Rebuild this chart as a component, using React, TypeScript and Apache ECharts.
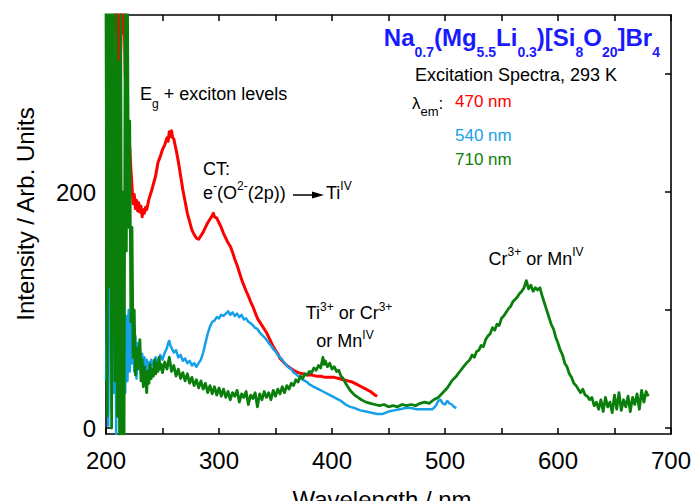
import React, { useEffect, useRef } from 'react';
import * as echarts from 'echarts';

const FONT = '"Liberation Sans", Arial, Helvetica, sans-serif';

const RED = '#ff0000';
const BLUE = '#16a0e8';
const GREEN = '#0b7f0b';
const TITLE_BLUE = '#1a1aff';

// x axis: wavelength (nm)
const xMin = 200;
const xMax = 700;
const xInterval = 100;
// y axis: intensity
const yMin = -5;
const yMax = 350;
const yTickValues = [0, 100, 200, 300];
const yLabelValues = [0, 200];

// Excitation spectrum, lambda_em = 470 nm
const red470: [number, number][] = [
  [208, 360], [209, 310], [210, 362], [211, 300], [212, 365], [213, 320], [214, 360], [215, 335], [216, 355],
  [217, 300], [218, 280], [219, 265], [220, 245], [221, 238], [222, 220], [223, 205], [224, 190], [225, 198],
  [226, 186], [227, 193], [228, 184], [229, 191], [230, 183], [231, 188], [232, 179], [233, 185], [234, 182],
  [235, 187], [236, 185], [238, 194], [240, 200], [242, 207], [244, 214], [246, 225], [248, 230], [250, 236],
  [252, 240], [254, 246], [255, 243], [256, 251], [257, 247], [258, 252], [259, 246], [260, 245], [262, 236],
  [264, 226], [266, 214], [268, 202], [270, 192], [272, 182], [274, 175], [276, 168], [278, 164], [280, 161],
  [282, 160], [284, 163], [286, 166], [288, 170], [290, 174], [292, 177], [294, 180], [295, 182], [296, 179],
  [298, 178], [300, 174], [302, 170], [304, 165], [306, 161], [308, 157], [310, 154], [312, 149], [314, 143],
  [316, 138], [318, 132], [320, 126], [322, 121], [324, 116], [326, 112], [328, 107], [330, 103], [332, 98],
  [334, 93], [336, 90], [338, 87], [340, 84], [342, 81], [344, 77], [346, 73], [348, 69], [350, 66], [352, 63],
  [354, 59], [356, 57], [358, 55], [360, 53], [363, 51], [366, 49], [370, 47], [374, 46], [378, 45], [382, 45],
  [386, 44], [390, 44], [394, 43], [398, 43], [402, 43], [406, 42], [410, 41], [414, 40], [418, 39], [422, 37],
  [426, 35], [430, 33], [434, 31], [438, 28], [440, 27],
];

// Excitation spectrum, lambda_em = 540 nm
const blue540: [number, number][] = [
  [200, 40], [201, 110], [202, 2], [203, 160], [204, 300], [205, 15], [206, 210], [207, 30], [208, 130],
  [209, -5], [210, 225], [211, 15], [212, 165], [213, -5], [214, 120], [215, 5], [216, 105], [217, 30],
  [218, 95], [219, 40], [220, 100], [221, 48], [222, 92], [223, 55], [224, 85], [225, 48], [226, 78],
  [227, 42], [228, 72], [229, 50], [230, 66], [231, 45], [232, 63], [233, 48], [234, 60], [235, 44],
  [236, 58], [237, 47], [238, 56], [239, 50], [240, 58], [242, 52], [244, 60], [246, 55], [248, 62],
  [250, 58], [252, 64], [254, 68], [255, 72], [256, 74], [257, 70], [258, 68], [260, 64], [262, 66],
  [264, 60], [266, 62], [268, 57], [270, 59], [272, 55], [274, 57], [276, 53], [278, 55], [280, 52],
  [282, 55], [284, 58], [286, 64], [288, 72], [290, 80], [292, 86], [294, 90], [296, 91], [298, 94],
  [300, 93], [302, 96], [304, 95], [306, 97], [308, 99], [310, 96], [312, 98], [314, 95], [316, 97],
  [318, 94], [320, 96], [322, 92], [324, 93], [326, 90], [328, 89], [330, 87], [332, 85], [334, 84],
  [336, 81], [338, 79], [340, 77], [342, 75], [344, 72], [346, 70], [348, 67], [350, 65], [352, 62],
  [354, 60], [356, 58], [358, 55], [360, 53], [362, 51], [364, 50], [366, 47], [368, 46], [370, 44],
  [372, 43], [374, 41], [376, 40], [378, 39], [380, 37], [384, 35], [388, 33], [392, 31], [396, 29],
  [400, 27], [404, 25], [408, 23], [412, 20], [416, 18], [420, 17], [425, 15], [430, 14], [435, 13],
  [440, 12], [445, 12], [450, 14], [455, 15], [460, 16], [465, 17], [470, 17], [475, 16], [480, 16],
  [485, 16], [489, 16], [492, 19], [494, 23], [496, 24], [498, 21], [500, 20], [502, 23], [504, 21],
  [506, 20], [508, 18], [510, 17],
];

// Excitation spectrum, lambda_em = 710 nm
const green710: [number, number][] = [
  [200, 360], [201, 10], [202, 360], [203, 120], [204, 360], [205, 0], [206, 360], [207, 220], [208, 40],
  [209, 360], [210, 10], [211, 310], [212, -5], [213, 360], [214, -5], [215, 200], [216, -5], [217, 360],
  [218, 150], [219, 360], [220, 170], [221, 260], [222, 90], [223, 170], [224, 60], [225, 100], [226, 45],
  [227, 68], [228, 50], [229, 62], [230, 75], [231, 40], [232, 58], [233, 35], [234, 52], [235, 44],
  [236, 30], [237, 48], [238, 38], [239, 54], [240, 42], [241, 50], [242, 44], [243, 58], [244, 46],
  [245, 55], [246, 48], [247, 60], [248, 50], [249, 54], [250, 47], [252, 56], [254, 50], [256, 60],
  [258, 48], [260, 53], [262, 44], [264, 50], [266, 42], [268, 47], [270, 40], [272, 46], [274, 38],
  [276, 43], [278, 36], [280, 41], [282, 34], [284, 40], [286, 33], [288, 38], [290, 30], [292, 36],
  [294, 29], [296, 35], [298, 28], [300, 34], [302, 27], [304, 33], [306, 26], [308, 31], [310, 24],
  [312, 30], [314, 27], [316, 32], [318, 22], [320, 29], [322, 26], [324, 31], [326, 20], [328, 28],
  [330, 25], [332, 30], [334, 18], [336, 29], [338, 24], [340, 31], [342, 26], [344, 30], [346, 24],
  [348, 32], [350, 27], [352, 33], [354, 29], [356, 35], [358, 30], [360, 36], [362, 33], [364, 38],
  [366, 36], [368, 41], [370, 39], [372, 44], [374, 42], [376, 46], [378, 45], [380, 48], [382, 47],
  [384, 51], [386, 49], [388, 53], [390, 51], [392, 60], [393, 54], [394, 57], [396, 52], [398, 55],
  [400, 50], [402, 52], [404, 48], [406, 49], [408, 44], [410, 42], [412, 38], [414, 35], [416, 32],
  [418, 30], [420, 28], [423, 26], [426, 24], [430, 22], [434, 21], [438, 20], [442, 19], [446, 20],
  [450, 18], [454, 19], [458, 18], [462, 20], [466, 19], [470, 20], [474, 19], [478, 21], [482, 22],
  [486, 21], [490, 24], [494, 26], [498, 30], [502, 34], [506, 40], [510, 44], [514, 49], [518, 54],
  [522, 58], [524, 62], [526, 60], [528, 65], [530, 66], [532, 70], [534, 69], [536, 75], [538, 78],
  [540, 80], [542, 85], [544, 83], [546, 88], [548, 87], [550, 93], [552, 95], [554, 98], [556, 101],
  [558, 103], [560, 107], [562, 109], [564, 111], [566, 114], [568, 116], [570, 119], [572, 125],
  [574, 118], [576, 121], [578, 116], [580, 119], [582, 117], [584, 119], [586, 112], [588, 106],
  [590, 100], [592, 94], [594, 88], [596, 84], [598, 77], [600, 72], [602, 66], [604, 62], [606, 55],
  [608, 52], [610, 46], [612, 43], [614, 38], [616, 36], [618, 33], [620, 30], [622, 33], [624, 28],
  [626, 27], [628, 24], [630, 26], [632, 19], [634, 22], [636, 16], [638, 24], [640, 14], [642, 26],
  [644, 18], [646, 22], [648, 13], [650, 28], [652, 16], [654, 30], [656, 15], [658, 24], [660, 18],
  [662, 27], [664, 14], [666, 26], [668, 20], [670, 29], [672, 16], [674, 32], [676, 22], [678, 31],
  [680, 27],
];

const seriesDefs = [
  { name: '470 nm', data: red470, color: RED, width: 3 },
  { name: '540 nm', data: blue540, color: BLUE, width: 2.5 },
  { name: '710 nm', data: green710, color: GREEN, width: 2.8 },
];

const txt = (
  x: number,
  y: number,
  text: string,
  rich: Record<string, any>,
  align: string = 'left',
) => ({
  type: 'text',
  x,
  y,
  z: 100,
  style: { text, align, verticalAlign: 'middle', fontFamily: FONT, rich },
});

const tok = (size: number, color: string, lh: number, extra: Record<string, any> = {}) => ({
  fontSize: size,
  fill: color,
  color,
  lineHeight: lh,
  fontFamily: FONT,
  ...extra,
});

export default function App() {
  const ref = useRef<HTMLDivElement>(null);

  useEffect(() => {
    if (!ref.current) return;
    const chart = echarts.init(ref.current, undefined, { renderer: 'svg' });

    const axisLineStyle = { color: '#000', width: 1.6 };
    const tickCommon = { show: true, inside: true, length: 6, lineStyle: { color: '#000', width: 1.5 } };

    const option: any = {
      animation: false,
      backgroundColor: '#fff',
      grid: { left: 106, right: 22, top: 15, bottom: 67, containLabel: false },
      xAxis: [
        {
          type: 'value',
          min: xMin,
          max: xMax,
          interval: xInterval,
          position: 'bottom',
          axisLine: { show: true, onZero: false, lineStyle: axisLineStyle },
          axisTick: tickCommon,
          minorTick: { show: true, splitNumber: 2, length: 6, lineStyle: { color: '#000', width: 1.5 } },
          splitLine: { show: false },
          axisLabel: { color: '#000', fontSize: 24, fontFamily: FONT, margin: 14 },
        },
        {
          type: 'value',
          min: xMin,
          max: xMax,
          interval: xInterval,
          position: 'top',
          axisLine: { show: true, onZero: false, lineStyle: axisLineStyle },
          axisTick: tickCommon,
          minorTick: { show: true, splitNumber: 2, length: 6, lineStyle: { color: '#000', width: 1.5 } },
          splitLine: { show: false },
          axisLabel: { show: false },
        },
      ],
      yAxis: [
        {
          type: 'value',
          min: yMin,
          max: yMax,
          position: 'left',
          axisLine: { show: true, onZero: false, lineStyle: axisLineStyle },
          axisTick: { ...tickCommon, customValues: yTickValues },
          splitLine: { show: false },
          axisLabel: { color: '#000', fontSize: 24, fontFamily: FONT, margin: 10, customValues: yLabelValues },
        },
        {
          type: 'value',
          min: yMin,
          max: yMax,
          position: 'right',
          axisLine: { show: true, onZero: false, lineStyle: axisLineStyle },
          axisTick: { ...tickCommon, customValues: yTickValues },
          splitLine: { show: false },
          axisLabel: { show: false },
        },
      ],
      series: seriesDefs.map((s) => ({
        type: 'line',
        name: s.name,
        data: s.data,
        xAxisIndex: 0,
        yAxisIndex: 0,
        showSymbol: false,
        symbol: 'none',
        clip: true,
        lineStyle: { color: s.color, width: s.width, join: 'round' },
        itemStyle: { color: s.color },
      })),
      graphic: [
        // axis titles
        {
          type: 'text',
          x: 25,
          y: 214,
          rotation: Math.PI / 2,
          style: {
            text: 'Intensity / Arb. Units',
            align: 'center',
            verticalAlign: 'middle',
            fontSize: 24,
            fontFamily: FONT,
            fill: '#000',
          },
        },
        {
          type: 'text',
          x: 382,
          y: 499,
          style: {
            text: 'Wavelength / nm',
            align: 'center',
            verticalAlign: 'middle',
            fontSize: 24,
            fontFamily: FONT,
            fill: '#000',
          },
        },
        // compound title
        txt(
          660,
          37,
          '{m|Na}{s|0.7}{m|(Mg}{s|5.5}{m|Li}{s|0.3}{m|)[Si}{s|8}{m|O}{s|20}{m|]Br}{s|4}',
          {
            m: tok(24, TITLE_BLUE, 44, { fontWeight: 'bold' }),
            s: tok(14, TITLE_BLUE, 14, { fontWeight: 'bold', verticalAlign: 'bottom' }),
          },
          'right',
        ),
        txt(415, 75, '{m|Excitation Spectra, 293 K}', { m: tok(18, '#000', 22) }),
        txt(412, 103, '{m|λ}{s|em}{m|:}', {
          m: tok(17, '#000', 30),
          s: tok(13, '#000', 13, { verticalAlign: 'bottom' }),
        }),
        txt(455, 101.5, '{m|470 nm}', { m: tok(17, RED, 22) }),
        txt(455, 135, '{m|540 nm}', { m: tok(17, BLUE, 22) }),
        txt(455, 159.5, '{m|710 nm}', { m: tok(17, GREEN, 22) }),
        // annotations
        txt(140, 94, '{m|E}{s|g}{m| + exciton levels}', {
          m: tok(18, '#000', 32),
          s: tok(12, '#000', 12, { verticalAlign: 'bottom' }),
        }),
        txt(203, 168.5, '{m|CT:}', { m: tok(18, '#000', 22) }),
        txt(203, 193, '{m|e}{p|-}{m|(O}{p|2-}{m|(2p))}', {
          m: tok(18, '#000', 26),
          p: tok(12, '#000', 12, { verticalAlign: 'top' }),
        }),
        {
          type: 'line',
          z: 100,
          shape: { x1: 293, y1: 195, x2: 316, y2: 195 },
          style: { stroke: '#000', lineWidth: 1.5 },
        },
        {
          type: 'polygon',
          z: 100,
          shape: { points: [[312, 191.5], [324, 195], [312, 198.5]] },
          style: { fill: '#000' },
        },
        txt(326, 193, '{m|Ti}{p|IV}', {
          m: tok(18, '#000', 26),
          p: tok(12, '#000', 12, { verticalAlign: 'top' }),
        }),
        txt(349, 313, '{m|Ti}{p|3+}{m| or Cr}{p|3+}', {
          m: tok(18, '#000', 24),
          p: tok(12, '#000', 12, { verticalAlign: 'top' }),
        }, 'center'),
        txt(345, 341, '{m|or Mn}{p|IV}', {
          m: tok(18, '#000', 24),
          p: tok(12, '#000', 12, { verticalAlign: 'top' }),
        }, 'center'),
        txt(536, 259, '{m|Cr}{p|3+}{m| or Mn}{p|IV}', {
          m: tok(18, '#000', 26),
          p: tok(12, '#000', 12, { verticalAlign: 'top' }),
        }, 'center'),
      ],
    };

    chart.setOption(option);
    return () => chart.dispose();
  }, []);

  return (
    <div
      ref={ref}
      style={{ position: 'fixed', left: 0, top: 0, width: 694, height: 501, background: '#fff' }}
    />
  );
}
